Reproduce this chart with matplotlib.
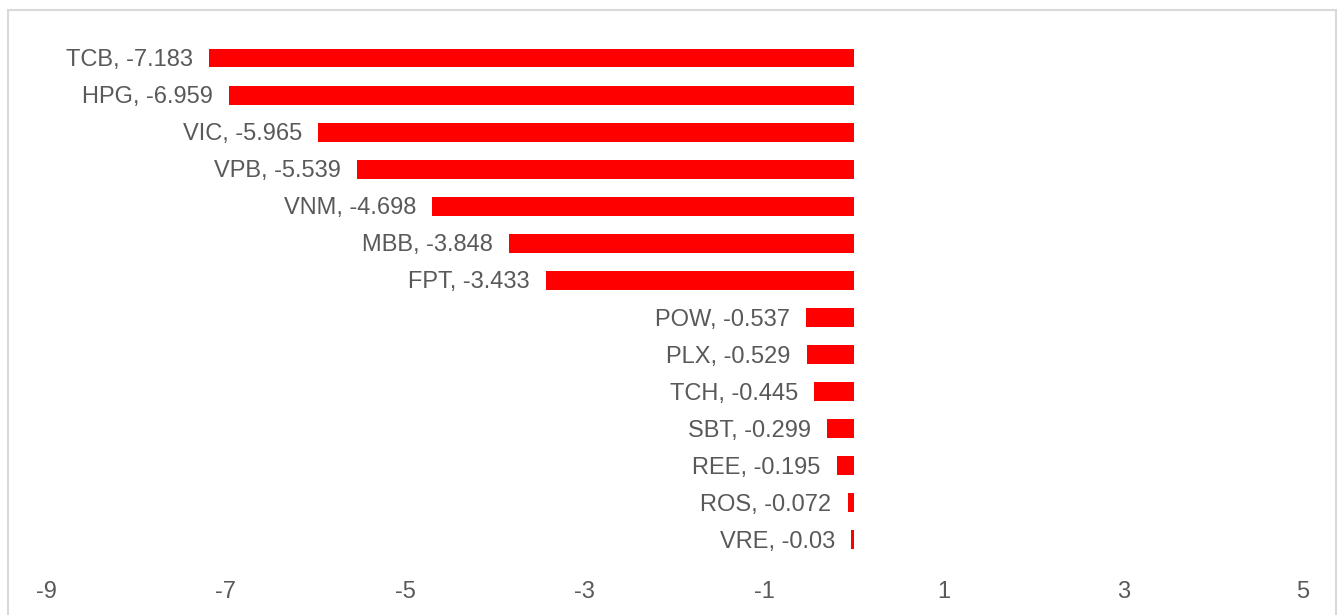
import matplotlib.pyplot as plt
from matplotlib.patches import Rectangle

# data
tickers = ['TCB', 'HPG', 'VIC', 'VPB', 'VNM', 'MBB', 'FPT',
           'POW', 'PLX', 'TCH', 'SBT', 'REE', 'ROS', 'VRE']
values = [-7.183, -6.959, -5.965, -5.539, -4.698, -3.848, -3.433,
          -0.537, -0.529, -0.445, -0.299, -0.195, -0.072, -0.03]
value_labels = ['-7.183', '-6.959', '-5.965', '-5.539', '-4.698', '-3.848', '-3.433',
                '-0.537', '-0.529', '-0.445', '-0.299', '-0.195', '-0.072', '-0.03']
xticks = [-9, -7, -5, -3, -1, 1, 3, 5]

plt.rcParams['font.family'] = ['Liberation Sans', 'DejaVu Sans']

fig = plt.figure(figsize=(13.44, 6.15), dpi=100)
ax = fig.add_axes([46 / 1344, 0.0919, (1303 - 46) / 1344, 0.9358 - 0.0919])

ypos = list(range(len(tickers)))
ax.barh(ypos, values, height=0.51, color='#ff0000')

for y, v, t, lab in zip(ypos, values, tickers, value_labels):
    ax.annotate(f'{t}, {lab}', xy=(v, y), xytext=(-16, -2), textcoords='offset pixels',
                ha='right', va='center', fontsize=17, color='#595959')

ax.set_xlim(-9, 5)
ax.set_ylim(len(tickers) - 0.5, -0.5)
ax.set_xticks(xticks)
ax.set_xticklabels([str(x) for x in xticks])
ax.set_yticks([])
ax.tick_params(axis='x', length=0, pad=16.5, labelsize=17, labelcolor='#595959')
for s in ax.spines.values():
    s.set_visible(False)

# light frame around the chart area
fig.patches.append(Rectangle((8 / 1344, -0.05), (1336 - 8) / 1344, 1 - 10 / 615 + 0.05,
                             transform=fig.transFigure, fill=False,
                             edgecolor='#d9d9d9', linewidth=1.5))

fig.savefig('out.png', dpi=100)
